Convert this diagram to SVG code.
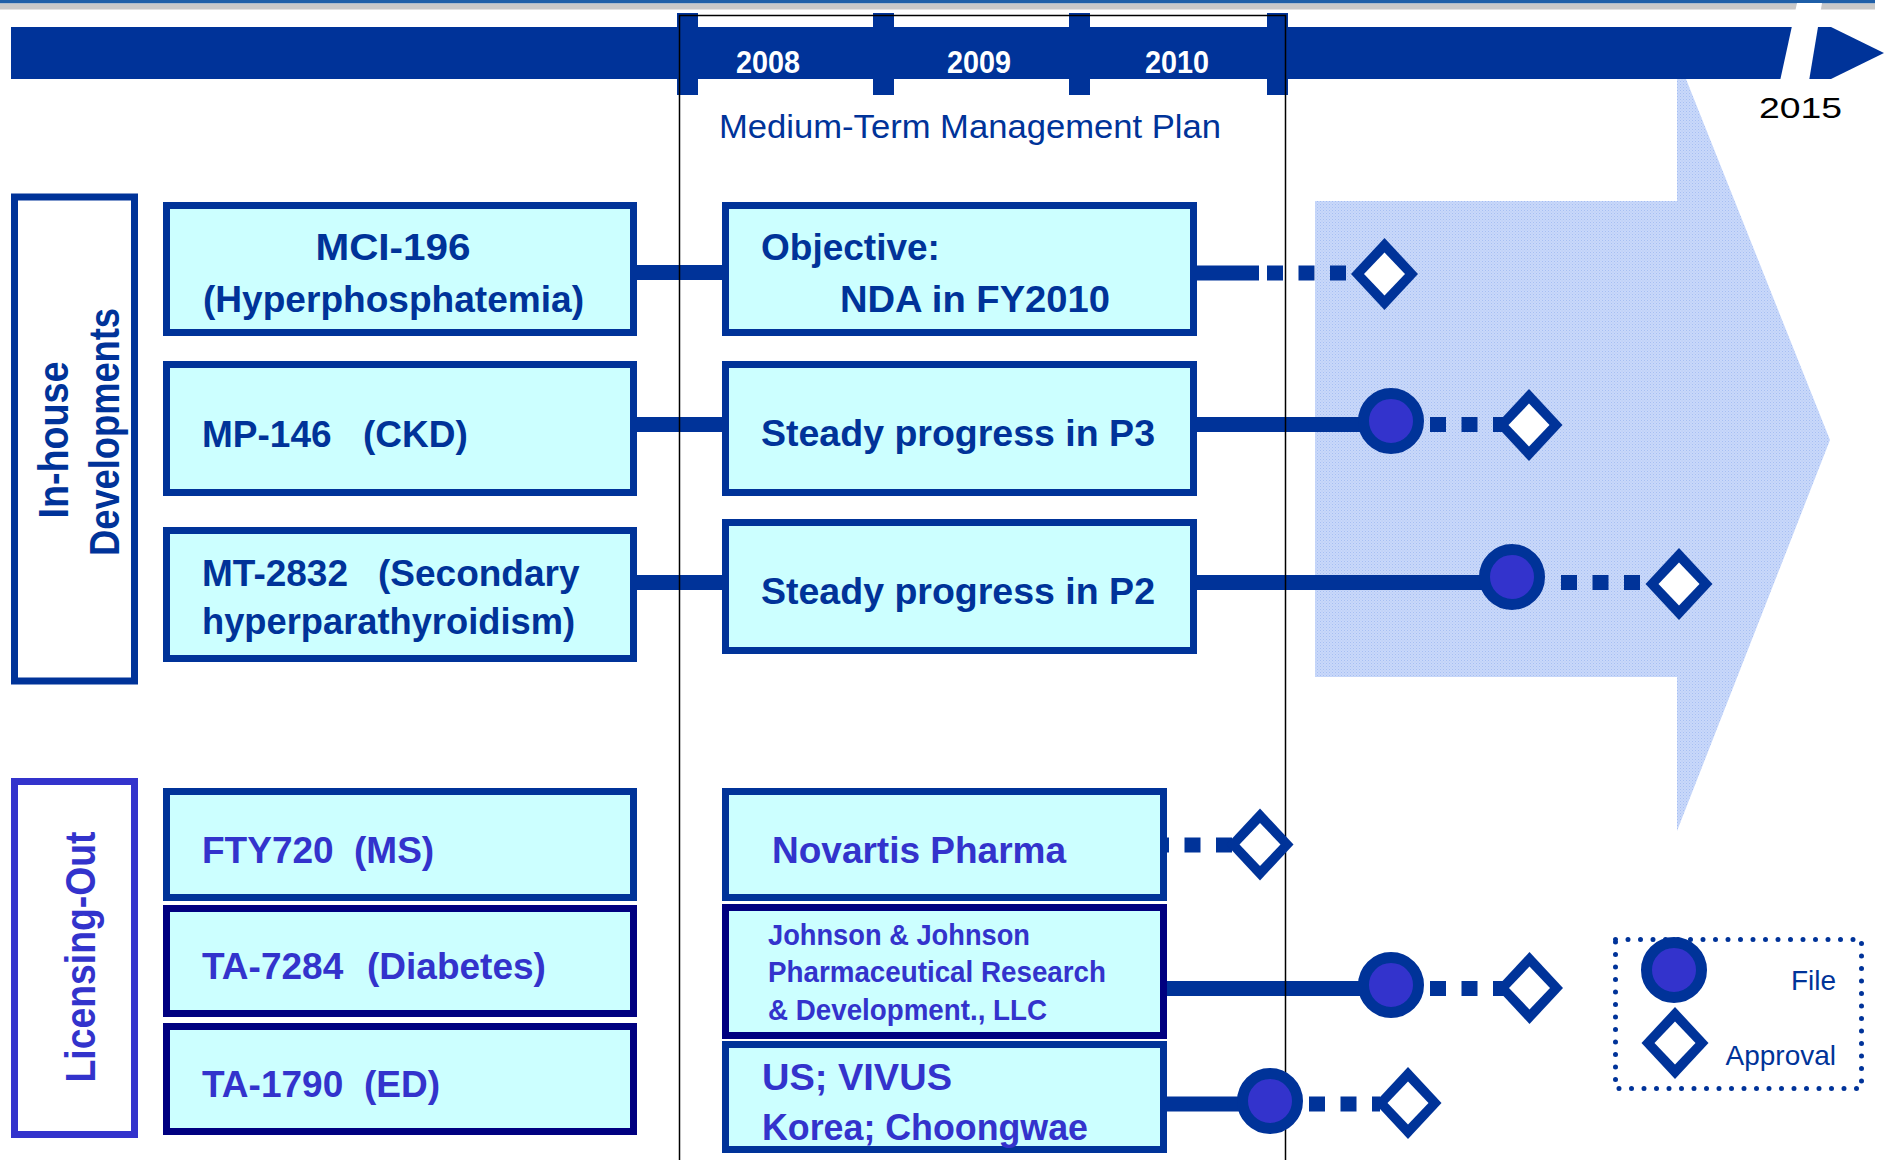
<svg xmlns="http://www.w3.org/2000/svg" width="1888" height="1160" viewBox="0 0 1888 1160">
<style>
.box{fill:#ccffff;stroke:#003399;stroke-width:7}
.navy{stroke:#000080}
.cat{fill:#ffffff;stroke:#003399;stroke-width:7}
.t{font-family:"Liberation Sans",Arial,sans-serif;font-weight:bold;font-size:37px;fill:#003399}
.p{fill:#3333cc}
.sm{font-size:30px}
.ct{font-family:"Liberation Sans",Arial,sans-serif;font-weight:bold;font-size:42px;text-anchor:middle}
.yr{font-family:"Liberation Sans",Arial,sans-serif;font-weight:bold;font-size:31px;fill:#ffffff;text-anchor:middle}
.reg{font-family:"Liberation Sans",Arial,sans-serif;font-weight:normal}
.ln{stroke:#003399;stroke-width:15;fill:none}
.dash{stroke:#003399;stroke-width:15;fill:none;stroke-dasharray:16 15.5}
.plan{stroke:#000000;stroke-width:1.5;fill:none}
</style>
<defs>
<pattern id="hatch" width="3" height="3" patternUnits="userSpaceOnUse">
<rect width="3" height="3" fill="#c9d8fa"/>
<rect width="1" height="1" fill="#a6bff2"/>
<rect x="1.5" y="1.5" width="1" height="1" fill="#b3c8f5"/>
</pattern>
<g id="dia"><polygon points="0,-36 33.5,0 0,36 -33.5,0" fill="#003399"/><polygon points="0,-21.5 20.5,0 0,21.5 -20.5,0" fill="#ffffff"/></g>
<g id="file"><circle r="27.5" fill="#3333cc" stroke="#003399" stroke-width="11"/></g>
</defs>

<g id="background">
<rect x="0" y="0" width="1875" height="3.5" fill="#1f5fa8"/>
<rect x="0" y="3.5" width="1875" height="6" fill="#c8c8c8"/>
<polygon id="big-arrow" points="1315,201 1677,201 1677,79 1686,79 1830,440 1677,831 1677,677 1315,677" fill="url(#hatch)"/>
</g>

<g id="timeline">
<polygon points="11,27 1831,27 1884,53 1831,79 11,79" fill="#003399"/>
<polygon points="1797,3 1822,3 1809,81 1780,81" fill="#ffffff"/>
<rect x="677" y="13" width="21" height="82" fill="#003399"/>
<rect x="873" y="13" width="21" height="82" fill="#003399"/>
<rect x="1069" y="13" width="21" height="82" fill="#003399"/>
<rect x="1267" y="13" width="21" height="82" fill="#003399"/>
<text class="yr" x="768" y="73" textLength="64" lengthAdjust="spacingAndGlyphs">2008</text>
<text class="yr" x="979" y="73" textLength="64" lengthAdjust="spacingAndGlyphs">2009</text>
<text class="yr" x="1177" y="73" textLength="64" lengthAdjust="spacingAndGlyphs">2010</text>
<text class="reg" x="1759" y="118" font-size="29" fill="#000000" textLength="83" lengthAdjust="spacingAndGlyphs">2015</text>
<text class="reg" x="719" y="138" font-size="34" fill="#003399" textLength="502" lengthAdjust="spacingAndGlyphs">Medium-Term Management Plan</text>
</g>

<g id="connectors">
<path class="ln" d="M637,272.5 H722 M637,424.5 H722 M637,582.5 H722"/>
<path class="ln" d="M1197,273 H1259"/>
<path class="dash" d="M1267,273 H1360"/>
<path class="ln" d="M1197,424.5 H1391"/>
<path class="dash" d="M1430,424.5 H1505"/>
<path class="ln" d="M1197,582.5 H1512"/>
<path class="dash" d="M1561,582.5 H1650"/>
<path class="dash" d="M1153,845 H1240"/>
<path class="ln" d="M1167,988.5 H1391"/>
<path class="dash" d="M1430,988.5 H1505"/>
<path class="ln" d="M1167,1104 H1270"/>
<path class="dash" d="M1309,1104 H1380"/>
</g>

<g id="plan-frame">
<path class="plan" d="M679.5,1160 V15.5 H1285.5 V1160"/>
</g>

<g id="milestones">
<use href="#dia" x="1384.5" y="274"/>
<use href="#file" x="1391" y="421"/>
<use href="#dia" x="1529" y="425"/>
<use href="#file" x="1512" y="577"/>
<use href="#dia" x="1679" y="584"/>
<use href="#dia" x="1260" y="844.5"/>
<use href="#file" x="1391" y="985"/>
<use href="#dia" x="1529.5" y="988"/>
<use href="#file" x="1270" y="1101"/>
<use href="#dia" x="1408" y="1103"/>
</g>

<g id="cat-inhouse">
<rect class="cat" x="14.5" y="197" width="120" height="484"/>
<text class="ct" fill="#003399" transform="translate(68,440) rotate(-90)" textLength="157" lengthAdjust="spacingAndGlyphs">In-house</text>
<text class="ct" fill="#003399" transform="translate(119,432) rotate(-90)" textLength="248" lengthAdjust="spacingAndGlyphs">Developments</text>
</g>

<g id="cat-licensing">
<rect class="cat" x="14.5" y="781.5" width="120" height="353" style="stroke:#3333cc"/>
<text class="ct" fill="#3333cc" transform="translate(94.5,957) rotate(-90)" textLength="251" lengthAdjust="spacingAndGlyphs">Licensing-Out</text>
</g>

<g id="mci196">
<rect class="box" x="166.5" y="205.5" width="467" height="127"/>
<text class="t" x="393" y="260" text-anchor="middle" textLength="155" lengthAdjust="spacingAndGlyphs">MCI-196</text>
<text class="t" x="393.5" y="312" text-anchor="middle" textLength="381" lengthAdjust="spacingAndGlyphs">(Hyperphosphatemia)</text>
</g>

<g id="mp146">
<rect class="box" x="166.5" y="364.5" width="467" height="128"/>
<text class="t" x="202" y="447"><tspan>MP-146</tspan><tspan x="363">(CKD)</tspan></text>
</g>

<g id="mt2832">
<rect class="box" x="166.5" y="530.5" width="467" height="128"/>
<text class="t" x="202" y="586"><tspan>MT-2832</tspan><tspan x="378">(Secondary</tspan></text>
<text class="t" x="202" y="634" textLength="373" lengthAdjust="spacingAndGlyphs">hyperparathyroidism)</text>
</g>

<g id="objective">
<rect class="box" x="725.5" y="205.5" width="468" height="127"/>
<text class="t" x="761" y="260">Objective:</text>
<text class="t" x="840" y="312" textLength="270" lengthAdjust="spacingAndGlyphs">NDA in FY2010</text>
</g>

<g id="p3">
<rect class="box" x="725.5" y="364.5" width="468" height="128"/>
<text class="t" x="761" y="446" textLength="394" lengthAdjust="spacingAndGlyphs">Steady progress in P3</text>
</g>

<g id="p2">
<rect class="box" x="725.5" y="522.5" width="468" height="128"/>
<text class="t" x="761" y="604" textLength="394" lengthAdjust="spacingAndGlyphs">Steady progress in P2</text>
</g>

<g id="fty720">
<rect class="box" x="166.5" y="791.5" width="467" height="106"/>
<text class="t p" x="202" y="863"><tspan>FTY720</tspan><tspan x="354">(MS)</tspan></text>
</g>

<g id="ta7284">
<rect class="box navy" x="166.5" y="908.5" width="467" height="105"/>
<text class="t p" x="202" y="979"><tspan>TA-7284</tspan><tspan x="367">(Diabetes)</tspan></text>
</g>

<g id="ta1790">
<rect class="box navy" x="166.5" y="1026.5" width="467" height="105"/>
<text class="t p" x="202" y="1097"><tspan>TA-1790</tspan><tspan x="364">(ED)</tspan></text>
</g>

<g id="novartis">
<rect class="box" x="725.5" y="791.5" width="438" height="106"/>
<text class="t p" x="772" y="863" textLength="294" lengthAdjust="spacingAndGlyphs">Novartis Pharma</text>
</g>

<g id="jnj">
<rect class="box navy" x="725.5" y="907.5" width="438" height="128"/>
<text class="t p sm" x="768" y="945" textLength="262" lengthAdjust="spacingAndGlyphs">Johnson &amp; Johnson</text>
<text class="t p sm" x="768" y="982" textLength="338" lengthAdjust="spacingAndGlyphs">Pharmaceutical Research</text>
<text class="t p sm" x="768" y="1020" textLength="279" lengthAdjust="spacingAndGlyphs">&amp; Development., LLC</text>
</g>

<g id="vivus">
<rect class="box" x="725.5" y="1044.5" width="438" height="105"/>
<text class="t p" x="762" y="1090" font-size="38" textLength="190" lengthAdjust="spacingAndGlyphs">US; VIVUS</text>
<text class="t p" x="762" y="1140" font-size="38" textLength="326" lengthAdjust="spacingAndGlyphs">Korea; Choongwae</text>
</g>

<g id="legend">
<rect x="1615.5" y="939.5" width="246" height="149" fill="none" stroke="#003399" stroke-width="5" stroke-linecap="round" stroke-dasharray="0 12.5"/>
<use href="#file" x="1674" y="970"/>
<use href="#dia" x="1675" y="1043"/>
<text class="reg" x="1836" y="990" font-size="28" fill="#003399" text-anchor="end">File</text>
<text class="reg" x="1836" y="1065" font-size="28" fill="#003399" text-anchor="end">Approval</text>
</g>
</svg>
